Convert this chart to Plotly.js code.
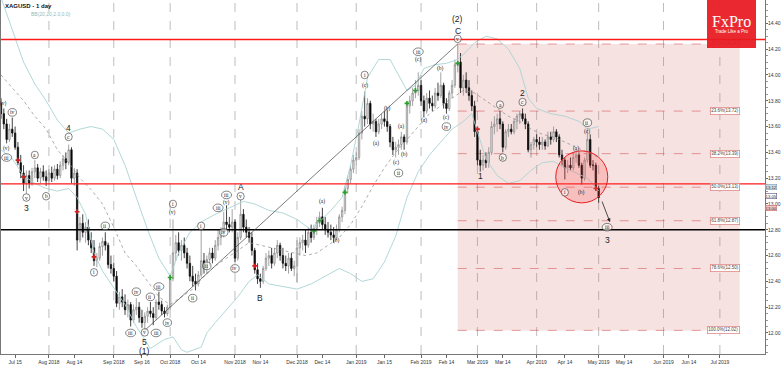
<!DOCTYPE html>
<html>
<head>
<meta charset="utf-8">
<script src="https://cdn.plot.ly/plotly-3.0.1.min.js"></script>
<style>html,body{margin:0;padding:0;background:#fff;}#chart{width:782px;height:366px;}</style>
</head>
<body>
<div id="chart"></div>
<script>
// ---------- calendar (trading days shown on the x axis) ----------
const firstDay = '2018-07-09';
const lastDay = '2019-07-23';
function tradingDays(start, end) {
  const out = []; const d = new Date(start + 'T00:00:00Z'); const e = new Date(end + 'T00:00:00Z');
  while (d <= e) { const w = d.getUTCDay(); if (w !== 0 && w !== 6) out.push(d.toISOString().slice(0, 10)); d.setUTCDate(d.getUTCDate() + 1); }
  return out;
}
const calendar = tradingDays(firstDay, lastDay);

// ---------- OHLC ----------
const opens = [13.78,13.70,13.62,13.50,13.58,13.55,13.44,13.32,13.24,13.16,13.22,13.16,13.25,13.28,13.20,13.25,13.21,13.18,13.24,13.20,
13.27,13.22,13.30,13.35,13.32,13.42,13.20,13.24,12.72,12.85,12.78,12.82,12.72,12.66,12.56,12.58,12.67,12.71,12.68,12.53,
12.50,12.44,12.23,12.28,12.24,12.18,12.22,12.10,12.18,12.20,12.12,12.08,12.13,12.17,12.15,12.12,12.24,12.22,12.17,12.15,
12.20,12.42,12.62,12.70,12.64,12.68,12.62,12.54,12.44,12.40,12.38,12.45,12.56,12.50,12.57,12.62,12.58,12.68,12.74,12.78,
12.86,12.84,12.82,12.86,12.58,12.74,12.92,12.82,12.78,12.74,12.64,12.49,12.42,12.40,12.50,12.58,12.60,12.54,12.62,12.68,
12.60,12.54,12.52,12.58,12.50,12.52,12.66,12.70,12.72,12.68,12.78,12.74,12.81,12.86,12.90,12.84,12.80,12.78,12.76,12.74,
12.80,12.90,12.95,13.12,13.19,13.27,13.34,13.36,13.55,13.68,13.66,13.78,13.62,13.64,13.56,13.62,13.66,13.64,13.60,13.48,
13.42,13.44,13.46,13.52,13.48,13.76,13.80,13.86,13.88,13.92,13.80,13.72,13.82,13.78,13.76,13.86,13.84,13.92,13.78,13.74,
13.86,13.92,14.08,14.10,13.90,13.96,13.90,13.84,13.76,13.56,13.34,13.30,13.34,13.32,13.40,13.60,13.62,13.66,13.62,13.44,
13.56,13.58,13.56,13.64,13.68,13.70,13.66,13.62,13.42,13.46,13.50,13.48,13.46,13.48,13.45,13.52,13.50,13.56,13.52,13.38,
13.34,13.28,13.30,13.28,13.36,13.38,13.30,13.20,13.34,13.50,13.30,13.30,13.12];
const highs = [13.82,13.74,13.66,13.62,13.67,13.60,13.48,13.38,13.30,13.26,13.26,13.28,13.34,13.31,13.28,13.30,13.26,13.27,13.29,13.30,
13.31,13.33,13.38,13.40,13.46,13.44,13.28,13.27,12.90,12.92,12.86,12.88,12.78,12.72,12.62,12.70,12.74,12.78,12.70,12.60,
12.54,12.48,12.32,12.34,12.30,12.26,12.24,12.22,12.27,12.24,12.18,12.16,12.20,12.24,12.20,12.26,12.32,12.25,12.20,12.22,
12.44,12.88,12.76,12.78,12.72,12.74,12.66,12.60,12.52,12.46,12.48,12.80,12.62,12.60,12.66,12.66,12.72,12.80,12.82,12.94,
12.99,12.90,12.96,12.88,12.78,13.04,12.96,12.88,12.82,12.78,12.66,12.54,12.46,12.52,12.62,12.64,12.66,12.66,12.72,12.70,
12.66,12.60,12.62,12.62,12.56,12.72,12.74,12.76,12.80,12.82,12.84,12.84,12.90,12.94,12.97,12.90,12.86,12.84,12.82,12.84,
12.92,12.98,13.14,13.22,13.30,13.38,13.40,13.58,13.72,13.87,13.82,13.80,13.70,13.66,13.66,13.70,13.72,13.73,13.62,13.52,
13.48,13.50,13.56,13.54,13.78,13.84,13.90,13.96,14.02,13.96,13.84,13.86,13.88,13.84,13.90,13.94,14.02,13.94,13.82,13.88,
13.96,14.12,14.24,14.17,14.00,14.02,13.96,13.88,13.80,13.60,13.42,13.38,13.40,13.44,13.64,13.68,13.70,13.72,13.64,13.58,
13.62,13.62,13.66,13.70,13.72,13.74,13.70,13.64,13.48,13.52,13.54,13.52,13.52,13.50,13.56,13.56,13.60,13.58,13.54,13.42,
13.36,13.34,13.36,13.40,13.42,13.40,13.32,13.36,13.59,13.54,13.34,13.32,13.14];
const lows = [13.66,13.58,13.47,13.48,13.52,13.42,13.30,13.20,13.10,13.08,13.12,13.14,13.20,13.17,13.16,13.18,13.14,13.15,13.17,13.18,
13.19,13.20,13.26,13.27,13.30,13.16,13.14,12.64,12.70,12.74,12.70,12.68,12.62,12.52,12.51,12.56,12.60,12.64,12.50,12.46,
12.40,12.20,12.18,12.20,12.14,12.12,12.05,12.08,12.14,12.08,12.04,12.02,12.08,12.12,12.06,12.10,12.18,12.14,12.12,12.13,
12.18,12.40,12.56,12.60,12.56,12.58,12.50,12.40,12.36,12.33,12.36,12.43,12.46,12.46,12.52,12.54,12.56,12.64,12.68,12.74,
12.80,12.78,12.78,12.55,12.56,12.72,12.78,12.74,12.70,12.60,12.46,12.38,12.35,12.38,12.48,12.52,12.50,12.52,12.58,12.56,
12.50,12.48,12.46,12.48,12.44,12.39,12.60,12.64,12.62,12.66,12.70,12.72,12.76,12.82,12.80,12.76,12.74,12.72,12.70,12.72,
12.78,12.86,12.92,13.08,13.16,13.24,13.30,13.34,13.50,13.60,13.62,13.58,13.56,13.52,13.54,13.58,13.60,13.56,13.44,13.38,
13.36,13.38,13.42,13.42,13.46,13.70,13.76,13.82,13.84,13.76,13.67,13.70,13.74,13.72,13.74,13.80,13.82,13.74,13.70,13.72,
13.82,13.90,14.02,13.86,13.84,13.86,13.80,13.72,13.52,13.30,13.25,13.26,13.28,13.28,13.38,13.54,13.56,13.58,13.40,13.42,
13.52,13.54,13.54,13.58,13.62,13.64,13.58,13.40,13.36,13.42,13.44,13.42,13.42,13.42,13.44,13.46,13.48,13.48,13.36,13.30,
13.19,13.24,13.26,13.26,13.32,13.28,13.15,13.18,13.32,13.28,13.26,13.10,13.01];
const closes = [13.70,13.62,13.50,13.58,13.55,13.44,13.32,13.24,13.16,13.22,13.16,13.25,13.28,13.20,13.25,13.21,13.18,13.24,13.20,13.27,
13.22,13.30,13.35,13.32,13.42,13.20,13.24,12.72,12.85,12.78,12.82,12.72,12.66,12.56,12.58,12.67,12.71,12.68,12.53,12.50,
12.44,12.23,12.28,12.24,12.18,12.22,12.10,12.18,12.20,12.12,12.08,12.13,12.17,12.15,12.12,12.24,12.22,12.17,12.15,12.20,
12.42,12.62,12.70,12.64,12.68,12.62,12.54,12.44,12.40,12.38,12.45,12.56,12.50,12.57,12.62,12.58,12.68,12.74,12.78,12.86,
12.84,12.82,12.86,12.58,12.74,12.92,12.82,12.78,12.74,12.64,12.49,12.42,12.40,12.50,12.58,12.60,12.54,12.62,12.68,12.60,
12.54,12.52,12.58,12.50,12.52,12.66,12.70,12.72,12.68,12.78,12.74,12.81,12.86,12.90,12.84,12.80,12.78,12.76,12.74,12.80,
12.90,12.95,13.12,13.19,13.27,13.34,13.36,13.55,13.68,13.66,13.78,13.62,13.64,13.56,13.62,13.66,13.64,13.60,13.48,13.42,
13.44,13.46,13.52,13.48,13.76,13.80,13.86,13.88,13.92,13.80,13.72,13.82,13.78,13.76,13.86,13.84,13.92,13.78,13.74,13.86,
13.92,14.08,14.10,13.90,13.96,13.90,13.84,13.76,13.56,13.34,13.30,13.34,13.32,13.40,13.60,13.62,13.66,13.62,13.44,13.56,
13.58,13.56,13.64,13.68,13.70,13.66,13.62,13.42,13.46,13.50,13.48,13.46,13.48,13.45,13.52,13.50,13.56,13.52,13.38,13.34,
13.28,13.30,13.28,13.36,13.38,13.30,13.20,13.34,13.50,13.30,13.30,13.12,13.05];

// ---------- Bollinger bands (read at sampled bars) ----------
const upperIdx = [0,4,8,12,16,20,24,28,32,36,40,44,48,52,56,60,63,67,71,76,81,86,90,95,100,105,110,113,117,121,124,127,130,134,138,141,144,147,150,154,158,162,165,168,172,176,180,184,187,190,195,200,205,208,212];
const upperVal = [14.60,14.35,14.10,13.93,13.80,13.65,13.55,13.58,13.60,13.58,13.50,13.30,13.05,12.80,12.58,12.44,12.62,12.78,12.86,12.92,12.97,13.02,13.00,12.95,12.93,12.88,12.80,12.86,12.95,13.05,13.30,13.62,13.98,14.12,14.12,14.00,13.88,13.92,14.05,14.08,14.09,14.12,14.18,14.25,14.30,14.28,14.20,14.05,13.82,13.74,13.70,13.68,13.64,13.58,13.60];
const middleIdx = [0,4,8,12,16,20,24,28,32,36,40,44,48,52,56,60,64,68,72,76,80,84,88,92,96,100,104,108,112,116,120,124,128,132,136,140,144,148,152,156,160,164,168,172,176,180,184,188,192,196,200,204,208,212];
const middleVal = [14.00,13.90,13.80,13.68,13.58,13.42,13.32,13.20,13.11,13.00,12.82,12.62,12.52,12.40,12.28,12.22,12.28,12.34,12.44,12.52,12.58,12.64,12.70,12.68,12.66,12.64,12.62,12.60,12.62,12.68,12.74,12.84,12.98,13.14,13.28,13.40,13.50,13.60,13.70,13.76,13.82,13.88,13.86,13.80,13.74,13.68,13.64,13.58,13.54,13.52,13.48,13.44,13.40,13.36];
const lowerIdx = [0,4,8,12,16,20,24,27,30,33,36,40,44,48,53,58,61,64,66,71,73,76,80,84,88,91,95,100,105,110,115,120,124,128,132,136,140,144,148,152,156,160,164,167,169,172,176,180,184,188,192,196,200,204,208,212];
const lowerVal = [13.42,13.35,13.22,13.16,13.12,13.10,13.12,13.05,12.92,12.62,12.48,12.35,12.22,12.05,11.88,11.95,11.97,11.87,11.85,11.89,12.00,12.08,12.18,12.28,12.40,12.45,12.38,12.36,12.34,12.38,12.44,12.50,12.46,12.40,12.42,12.55,12.75,13.05,13.25,13.38,13.48,13.58,13.64,13.70,13.56,13.35,13.22,13.16,13.18,13.26,13.32,13.33,13.28,13.24,13.20,13.10];

// ---------- band-break markers ----------
const redIdx = [6,8,27,33,90,169,211];
const redVal = [13.34,13.21,12.94,12.59,12.52,13.58,13.12];
const greenIdx = [60,111,113,122,144,147,162];
const greenVal = [12.43,12.79,12.87,13.09,13.78,13.88,14.09];

// ---------- wave labels ----------
const waveText = ['(v)','iv','(v)','iii','v','a','b','c','i','ii','iii','iv','v','ii','iii','iii','iv','i','(v)','ii','i','ii','iii','iv','iii','(v)','iv','v','(a)','(b)','i','(c)','(a)','(b)','(c)','ii','(a)','(b)','iii','(c)','(a)','(b)','(c)','iv','v','a','b','c','i','(a)','(b)','ii','(c)','iii'];
const waveIdx = [1,4,2,2,9,12,16,24,33,37,46,48,51,53,55,56,59,61,61,68,71,73,77,79,80,80,83,85,114,119,129,129,133,137,140,141,142,143,148,148,150,156,158,158,162,177,178,185,200,204,206,208,208,215];
const wavePrice = [13.78,13.71,13.43,13.36,13.05,13.38,13.06,13.52,12.47,12.83,12.00,12.32,12.005,12.28,12.00,12.36,12.08,13.00,12.93,12.27,12.83,12.52,12.97,12.78,13.07,13.01,12.50,13.06,13.02,12.72,14.00,13.92,13.47,13.74,13.32,13.24,13.60,13.38,14.18,14.12,13.65,14.05,13.67,13.60,14.28,13.77,13.36,13.79,13.09,13.43,13.09,13.63,13.56,12.82];
const bigText = ['3','4','A','B','5','(1)','(2)','C','1','2','3'];
const bigIdx = [9,24,85,92,51,51,162,162,170,185,215];
const bigPrice = [12.97,13.59,13.13,12.27,11.93,11.862,14.43,14.34,13.22,13.86,12.72];

// ---------- levels ----------
const redLevels = [14.275, 13.155];
const blackLevel = 12.80;
const fibPct = [0, 23.6, 38.2, 50, 61.8, 78.6, 100];
const fibPrice = [14.24, 13.72, 13.39, 13.13, 12.87, 12.50, 12.02];
const fibStartIdx = 162, fibEndIdx = 262;
const trendFrom = {idx: 51, price: 12.02};
const trendTo = {idx: 162, price: 14.24};
const focusCircle = {idx: 206, price: 13.21};
const arrowFrom = {idx: 213, price: 13.03};
const arrowTo = {idx: 216, price: 12.86};
const tagText = ['13.12', '13.05', '13.00'];
const tagPrice = [13.13, 13.058, 12.972];

// ---------- axis ticks ----------
const monthStarts = ['2018-08-01','2018-09-03','2018-10-01','2018-11-01','2018-12-03','2019-01-01','2019-02-01','2019-03-01','2019-04-01','2019-05-01','2019-06-03','2019-07-01'];
const xTickVals = ['2018-07-16','2018-08-01','2018-08-14','2018-09-03','2018-09-17','2018-10-01','2018-10-15','2018-11-01','2018-11-14','2018-12-03','2018-12-14','2019-01-01','2019-01-15','2019-02-01','2019-02-14','2019-03-01','2019-03-14','2019-04-01','2019-04-15','2019-05-01','2019-05-14','2019-06-03','2019-06-14','2019-07-01'];
const xTickText = ['Jul 15','Aug 2018','Aug 14','Sep 2018','Sep 16','Oct 2018','Oct 14','Nov 2018','Nov 14','Dec 2018','Dec 14','Jan 2019','Jan 15','Feb 2019','Feb 14','Mar 2019','Mar 14','Apr 2019','Apr 14','May 2019','May 14','Jun 2019','Jun 14','Jul 2019'];
const yTickVals = [12.00,12.20,12.40,12.60,12.80,13.00,13.20,13.40,13.60,13.80,14.00,14.20,14.40];

const D = i => calendar[i];
const candleDates = calendar.slice(0, closes.length);

const traces = [
  {type:'scatter', mode:'lines', x: upperIdx.map(D), y: upperVal, line:{color:'#a9d3d3', width:0.9}, hoverinfo:'skip'},
  {type:'scatter', mode:'lines', x: middleIdx.map(D), y: middleVal, line:{color:'#8a8a8a', width:0.7, dash:'dot'}, hoverinfo:'skip'},
  {type:'scatter', mode:'lines', x: lowerIdx.map(D), y: lowerVal, line:{color:'#a9d3d3', width:0.9}, hoverinfo:'skip'},
  {type:'candlestick', x: candleDates, open: opens, high: highs, low: lows, close: closes,
   increasing:{line:{color:'#8c8c8c', width:0.8}, fillcolor:'#f4f4f4'},
   decreasing:{line:{color:'#111111', width:0.8}, fillcolor:'#000000'},
   whiskerwidth:0, hoverinfo:'skip'},
  {type:'scatter', mode:'markers', x: redIdx.map(D), y: redVal, marker:{symbol:'cross', size:4, color:'#d42020'}, hoverinfo:'skip'},
  {type:'scatter', mode:'markers', x: greenIdx.map(D), y: greenVal, marker:{symbol:'cross', size:4, color:'#2aa02a'}, hoverinfo:'skip'}
];

const shapes = [];
monthStarts.forEach(d => shapes.push({type:'line', xref:'x', yref:'paper', x0:d, x1:d, y0:0, y1:1, line:{color:'#a0a0a0', width:0.7, dash:'dash'}, layer:'below'}));
shapes.push({type:'rect', xref:'x', yref:'y', x0:D(fibStartIdx), x1:D(fibEndIdx), y0:fibPrice[fibPrice.length-1], y1:fibPrice[0], fillcolor:'rgba(215,110,110,0.2)', line:{width:0}, layer:'below'});
fibPrice.forEach(p => shapes.push({type:'line', xref:'x', yref:'y', x0:D(fibStartIdx), x1:D(fibEndIdx), y0:p, y1:p, line:{color:'rgba(205,70,70,0.75)', width:0.7, dash:'dash'}, layer:'below'}));
redLevels.forEach(p => shapes.push({type:'line', xref:'paper', yref:'y', x0:0, x1:1, y0:p, y1:p, line:{color:'#ff1a1a', width:1.3}}));
shapes.push({type:'line', xref:'paper', yref:'y', x0:0, x1:1, y0:blackLevel, y1:blackLevel, line:{color:'#000', width:1.6}});
shapes.push({type:'line', xref:'x', yref:'y', x0:D(trendFrom.idx), y0:trendFrom.price, x1:D(trendTo.idx), y1:trendTo.price, line:{color:'#444', width:0.7}});
shapes.push({type:'circle', xref:'x', yref:'y', xsizemode:'pixel', ysizemode:'pixel', xanchor:D(focusCircle.idx), yanchor:focusCircle.price, x0:-26, x1:26, y0:-26, y1:26, fillcolor:'rgba(255,70,70,0.22)', line:{color:'#e62020', width:1}});
waveText.forEach((t, k) => {
  if (t.startsWith('(')) return;
  const w = t.length === 1 ? 3.6 : (t.length === 2 ? 4.2 : 5.0);
  shapes.push({type:'circle', xref:'x', yref:'y', xsizemode:'pixel', ysizemode:'pixel', xanchor:D(waveIdx[k]), yanchor:wavePrice[k], x0:-w, x1:w, y0:-3.8, y1:3.8, line:{color:'#333', width:0.6}, fillcolor:'rgba(255,255,255,0.6)'});
});

const annotations = [];
annotations.push({xref:'paper', yref:'paper', x:0.003, y:1, xanchor:'left', yanchor:'top', yshift:-1, showarrow:false, text:'<b>XAGUSD - 1 day</b>', font:{family:'Liberation Sans, Arial', size:6, color:'#111'}});
annotations.push({xref:'paper', yref:'paper', x:0.037, y:1, xanchor:'left', yanchor:'top', yshift:-9, showarrow:false, text:'BB(20,20,2.0,0.0)', font:{family:'Liberation Sans, Arial', size:5, color:'#8fbcbc'}});
waveText.forEach((t, k) => annotations.push({x:D(waveIdx[k]), y:wavePrice[k], showarrow:false, text:t, font:{family:'Liberation Serif, Times New Roman', size:5.5, color:'#222'}}));
bigText.forEach((t, k) => annotations.push({x:D(bigIdx[k]), y:bigPrice[k], showarrow:false, text:t, font:{family:'Liberation Sans, Arial', size:8.5, color:'#222'}}));
fibPct.forEach((f, k) => annotations.push({x:D(fibEndIdx), y:fibPrice[k], xanchor:'right', showarrow:false, text:f.toFixed(1)+'%('+fibPrice[k].toFixed(2)+')', font:{family:'Liberation Sans, Arial', size:4.5, color:'#444'}, bgcolor:'#ffffff', bordercolor:'#e08a8a', borderwidth:0.8, borderpad:0.5}));
annotations.push({x:D(arrowTo.idx), y:arrowTo.price, ax:D(arrowFrom.idx), ay:arrowFrom.price, axref:'x', ayref:'y', showarrow:true, arrowhead:2, arrowsize:0.9, arrowwidth:0.8, arrowcolor:'#222', text:''});
const tagBg = ['#c9dcea', '#ffffff', '#f2c4c4'];
const tagBorder = ['#7d9bb5', '#5a4a7a', '#c96a6a'];
tagText.forEach((t, k) => annotations.push({xref:'paper', x:1, xanchor:'left', xshift:0, y:tagPrice[k], showarrow:false, text:t, font:{family:'Liberation Sans, Arial', size:4.2, color:'#333'}, bgcolor:tagBg[k], bordercolor:tagBorder[k], borderwidth:0.6, borderpad:0}));
// FxPro logo, drawn last so it sits on top of the 0% label
annotations.push({xref:'paper', yref:'paper', x:0.9568, y:1, xanchor:'center', yanchor:'top', showarrow:false, text:' ', width:49, height:48, bgcolor:'rgba(232,28,34,0.94)', borderpad:0, borderwidth:0});
annotations.push({xref:'paper', yref:'paper', x:0.9568, y:0.938, xanchor:'center', yanchor:'middle', showarrow:false, text:'FxPro', font:{family:'Liberation Serif, Times New Roman', size:16, color:'#ffffff'}});
annotations.push({xref:'paper', yref:'paper', x:0.9568, y:0.912, xanchor:'center', yanchor:'middle', showarrow:false, text:'Trade Like a Pro', font:{family:'Liberation Sans, Arial', size:4.5, color:'#ffffff'}});

const layout = {
  width:782, height:366, margin:{l:1, r:17, t:0, b:12},
  paper_bgcolor:'#ffffff', plot_bgcolor:'#ffffff', showlegend:false,
  xaxis:{type:'date', range:[firstDay, lastDay], rangebreaks:[{bounds:['sat','mon']}], rangeslider:{visible:false},
    tickmode:'array', tickvals:xTickVals, ticktext:xTickText, tickfont:{family:'Liberation Sans, Arial', size:5, color:'#333'},
    ticks:'outside', ticklen:3, tickcolor:'#666', showgrid:false, zeroline:false, showline:true, linecolor:'#777', linewidth:1, mirror:true, fixedrange:true},
  yaxis:{side:'right', range:[11.837, 14.581], tickmode:'array', tickvals:yTickVals, ticktext:yTickVals.map(v => v.toFixed(2)),
    tickfont:{family:'Liberation Sans, Arial', size:5, color:'#333'}, ticks:'outside', ticklen:2, tickcolor:'#666', ticklabelstandoff:-1,
    minor:{ticks:'outside', ticklen:1.5, dtick:0.05, tickcolor:'#999'},
    showgrid:false, zeroline:false, showline:true, linecolor:'#777', linewidth:1, mirror:true, fixedrange:true},
  shapes:shapes, annotations:annotations
};
Plotly.newPlot('chart', traces, layout, {displayModeBar:false, staticPlot:true});
</script>
</body>
</html>
